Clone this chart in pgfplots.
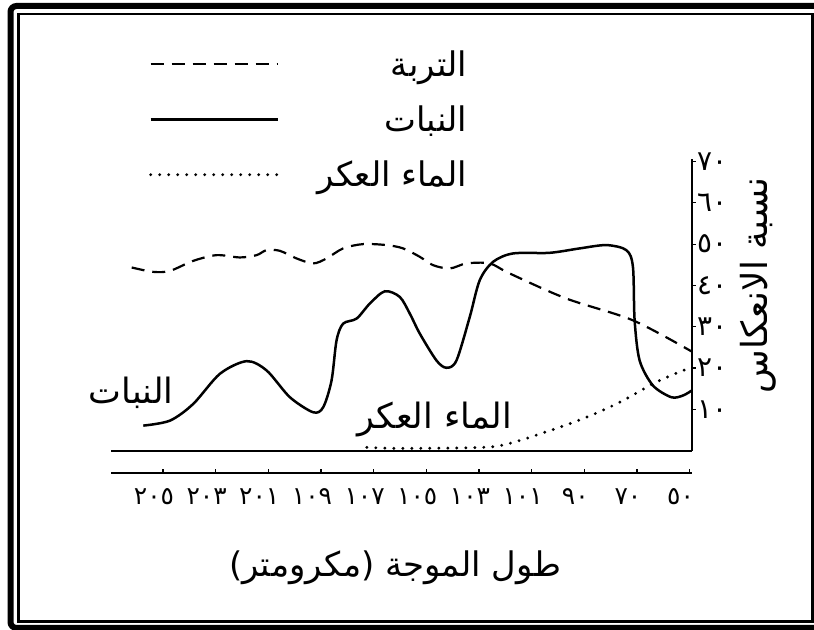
\documentclass[border=0pt]{standalone}
\usepackage{pgfplots}
\pgfplotsset{compat=1.18}
\usepackage{fontspec}
\newfontfamily\arabicfont[Script=Arabic]{DejaVu Sans}
\TeXXeTstate=1
\begin{document}
\begin{tikzpicture}[x=1bp,y=1bp]
\useasboundingbox (0,0) rectangle (814,630);
\draw[line width=6bp, rounded corners=6bp] (10.5,2) rectangle (822,624);
\draw[line width=2.5bp] (18.5,8.5) rectangle (812.5,616);
\begin{axis}[
  at={(111bp,179.3bp)}, anchor=south west,
  width=580.7bp, height=291.7bp, scale only axis,
  xmin=-0.987, xmax=10.04, ymin=0, ymax=70.6,
  axis x line=bottom, axis y line=right,
  axis line style={-, line width=2bp},
  x axis line style={-}, y axis line style={-},
  xtick=\empty,
  ytick={10,20,...,70},
  yticklabels={١٠,٢٠,٣٠,٤٠,٥٠,٦٠,٧٠},
  tick align=outside, major tick length=4bp,
  tick style={line width=1.2bp, black},
  yticklabel style={font=\arabicfont\fontsize{28}{28}\selectfont, anchor=west, xshift=-2bp},
  ylabel={{\arabicfont\beginR نسبة الانعكاس\endR}},
  ylabel style={font=\arabicfont\fontsize{36}{36}\selectfont, at={(axis description cs:1.115,0.567)}, anchor=center},
  clip=false,
  legend cell align={right},
  legend image code/.code={\draw[#1] (0bp,0bp) -- (127bp,0bp); \path (163bp,0bp);},
  legend style={draw=none, fill=none, at={(axis description cs:0.617,1.379)}, anchor=north east,
    font=\arabicfont\fontsize{34}{34}\selectfont, row sep=24bp, inner sep=0pt},
]
\addplot[black, line width=2.2bp, dash pattern=on 13bp off 8bp, smooth] coordinates {
(-0.594,44.34) (-0.184,43.28) (0.133,43.52) (0.575,45.95) (1.019,47.33) (1.461,46.77)
(1.778,47.33) (1.968,48.54) (2.220,48.37) (2.537,46.53) (2.852,45.32) (3.106,46.53)
(3.421,48.96) (3.801,50.0) (4.245,49.76) (4.560,48.96) (4.877,46.92) (5.129,44.90)
(5.446,44.10) (5.763,45.32) (6.205,45.32) (6.584,42.89) (7.660,36.82) (8.924,31.55) (10.04,24.0)
};
\addlegendentry{{\arabicfont\beginR التربة\endR}}
\addplot[black, line width=2.5bp, smooth, tension=0.5] coordinates {
(-0.374,6.07) (0.133,7.28) (0.575,11.33) (1.082,18.62) (1.588,21.67) (1.968,19.42)
(2.410,12.94) (2.852,9.30) (3.042,10.51) (3.201,16.99) (3.296,26.70) (3.421,30.75)
(3.676,31.97) (3.928,35.61) (4.213,38.59) (4.497,37.21) (4.687,33.18) (4.877,28.33)
(5.193,21.84) (5.383,20.07) (5.573,21.84) (5.825,32.35) (6.015,41.26) (6.268,45.70)
(6.647,47.74) (7.343,47.89) (7.913,48.96) (8.419,49.76) (8.799,48.54) (8.924,44.49)
(8.956,31.55) (9.051,21.84) (9.304,15.78) (9.653,12.94) (9.873,13.35) (10.04,14.56)
};
\addlegendentry{{\arabicfont\beginR النبات\endR}}
\addplot[black, line width=3.2bp, line cap=round, dash pattern=on 0bp off 9bp, smooth] coordinates {
(3.871,0.80) (4.497,0.56) (6.072,0.80) (6.584,1.77) (7.343,4.85) (8.040,8.08)
(8.672,11.72) (9.304,16.19) (9.748,18.76) (10.0,19.98)
};
\addlegendentry{{\arabicfont\beginR الماء العكر\endR}}
\node[font=\arabicfont\fontsize{35}{35}\selectfont] at (axis cs:-0.607,14.08) {\beginR النبات\endR};
\node[font=\arabicfont\fontsize{35}{35}\selectfont] at (axis cs:5.16,7.6) {\beginR الماء العكر\endR};
\end{axis}
\begin{axis}[
  at={(111bp,156.7bp)}, anchor=south west,
  width=580.7bp, height=10bp, scale only axis,
  xmin=-0.987, xmax=10.04, ymin=0, ymax=1,
  axis x line=bottom, axis y line=none,
  axis line style={-, line width=2bp},
  x axis line style={-},
  xtick={0,1,...,10},
  xticklabels={٢٠٥,٢٠٣,٢٠١,١٠٩,١٠٧,١٠٥,١٠٣,١٠١,٩٠,٧٠,٥٠},
  tick align=inside, major tick length=4bp,
  tick style={line width=1.2bp, black},
  xticklabel style={font=\arabicfont\fontsize{25}{25}\selectfont, xshift=-9bp, yshift=-12bp},
  xlabel={{\arabicfont\beginR طول الموجة (مكرومتر)\endR}},
  xlabel style={font=\arabicfont\fontsize{34}{34}\selectfont, at={(axis description cs:0.489,-9.4)}, anchor=center},
]
\end{axis}
\end{tikzpicture}
\end{document}
